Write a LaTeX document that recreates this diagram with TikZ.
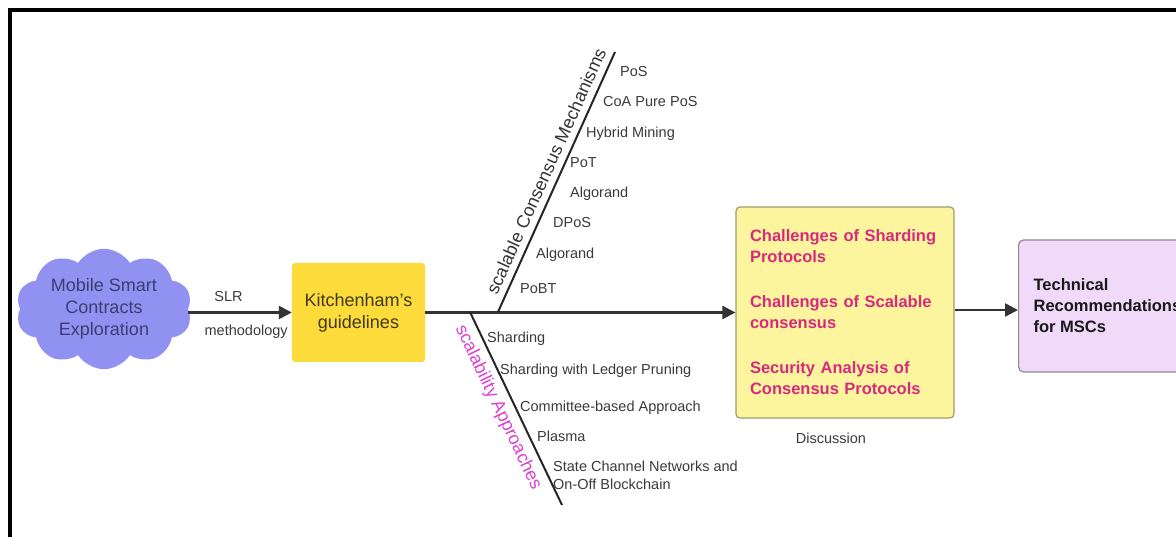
\documentclass[tikz,border=0pt]{standalone}
\usepackage{fontspec}
\setmainfont{Liberation Sans}
\usetikzlibrary{shapes.symbols,arrows.meta}

\definecolor{cloudfill}{HTML}{9191F2}
\definecolor{cloudtext}{HTML}{3D3D72}
\definecolor{kitchfill}{HTML}{FCDB3A}
\definecolor{kitchtext}{HTML}{3F3A1E}
\definecolor{discfill}{HTML}{FDF49E}
\definecolor{discline}{HTML}{9E9C6E}
\definecolor{disctext}{HTML}{D62B7C}
\definecolor{recfill}{HTML}{F1D9F9}
\definecolor{recline}{HTML}{8C8C8C}
\definecolor{approach}{HTML}{DB3FD0}
\definecolor{ink}{HTML}{333333}
\definecolor{itemtext}{HTML}{3A3A3A}

\begin{document}
\begin{tikzpicture}[x=1pt,y=-1pt,
  big/.style={font=\fontsize{18}{22}\selectfont},
  small/.style={font=\fontsize{14.5}{18}\selectfont, text=itemtext},
  item/.style={small, anchor=base west, inner sep=0pt},
  flow/.style={draw=ink, line width=2.5pt, -{Triangle[length=13pt,width=13pt]}},
  bone/.style={draw=black!85, line width=2pt},
  boxtext/.style={font=\fontsize{16.5}{21}\selectfont\bfseries},
]
\useasboundingbox (0,0) rectangle (1176,537);

% outer frame (open to the right and bottom)
\begin{scope}
  \clip (0,0) rectangle (1176,537);
  \draw[line width=4pt] (9.5,560) -- (9.5,10.5) -- (1200,10.5);
\end{scope}

% main nodes
\node[cloud, cloud puffs=10, cloud puff arc=115, aspect=1.5, fill=cloudfill,
      minimum width=176pt, minimum height=118pt, inner sep=0pt,
      big, text=cloudtext, align=center] (cloud) at (104,309)
      {Mobile Smart\\Contracts\\Exploration};

\node[fill=kitchfill, rounded corners=3pt, minimum width=133pt, minimum height=99pt,
      big, text=kitchtext, align=center] (kitch) at (358.5,312.5)
      {Kitchenham's\\guidelines};

\node[fill=discfill, draw=discline, line width=1.2pt, rounded corners=4pt,
      minimum width=218pt, minimum height=211pt, text width=190pt, align=left,
      boxtext, text=disctext] (disc) at (845,312.5)
      {Challenges of Sharding\\Protocols\\[24pt]Challenges of Scalable\\consensus\\[24pt]Security Analysis of\\Consensus Protocols};

\node[fill=recfill, draw=recline, line width=1.2pt, rounded corners=5pt,
      minimum height=132pt, inner xsep=15pt, anchor=west, align=left,
      boxtext, text=black!90] (rec) at (1018,306)
      {Technical\\Recommendations\\for MSCs};

\node[small, anchor=base] (disclabel) at (831,443) {Discussion};

% flow arrows
\draw[flow] (cloud.east |- kitch.west) -- (kitch.west)
  node[pos=0.39, above=6pt, small] (slr) {SLR}
  node[pos=0.56, below=8pt, small] (meth) {methodology};
\draw[flow] (kitch.east) -- (disc.west);
\draw[flow] (disc.east |- 0,310) -- (rec.west |- 0,310);

% fishbone: consensus branch
\coordinate (cmFoot) at (498,312);
\coordinate (cmTop) at (615,52);
\draw[bone] (cmFoot) -- node[sloped, pos=0.52, above=3pt, big, text=ink] (cmlabel)
  {scalable Consensus Mechanisms} (cmTop);

\node[item] (cm1) at (620,77)  {PoS};
\node[item] (cm2) at (603,107) {CoA Pure PoS};
\node[item] (cm3) at (586,138) {Hybrid Mining};
\node[item] (cm4) at (570,168) {PoT};
\node[item] (cm5) at (570,198) {Algorand};
\node[item] (cm6) at (553,228) {DPoS};
\node[item] (cm7) at (536,259) {Algorand};
\node[item] (cm8) at (520,294) {PoBT};

% fishbone: scalability branch
\coordinate (saFoot) at (470,312);
\coordinate (saEnd) at (562,505);
\draw[bone] (saFoot) -- node[sloped, pos=0.46, below=3pt, big, text=approach] (salabel)
  {scalability Approaches} (saEnd);

\node[item] (sa1) at (487,343) {Sharding};
\node[item] (sa2) at (500,374) {Sharding with Ledger Pruning};
\node[item] (sa3) at (520,412) {Committee-based Approach};
\node[item] (sa4) at (537,442) {Plasma};
\node[small, anchor=west, inner sep=0pt, align=left] (sa5) at (553,475)
  {State Channel Networks and\\On-Off Blockchain};
\end{tikzpicture}
\end{document}
